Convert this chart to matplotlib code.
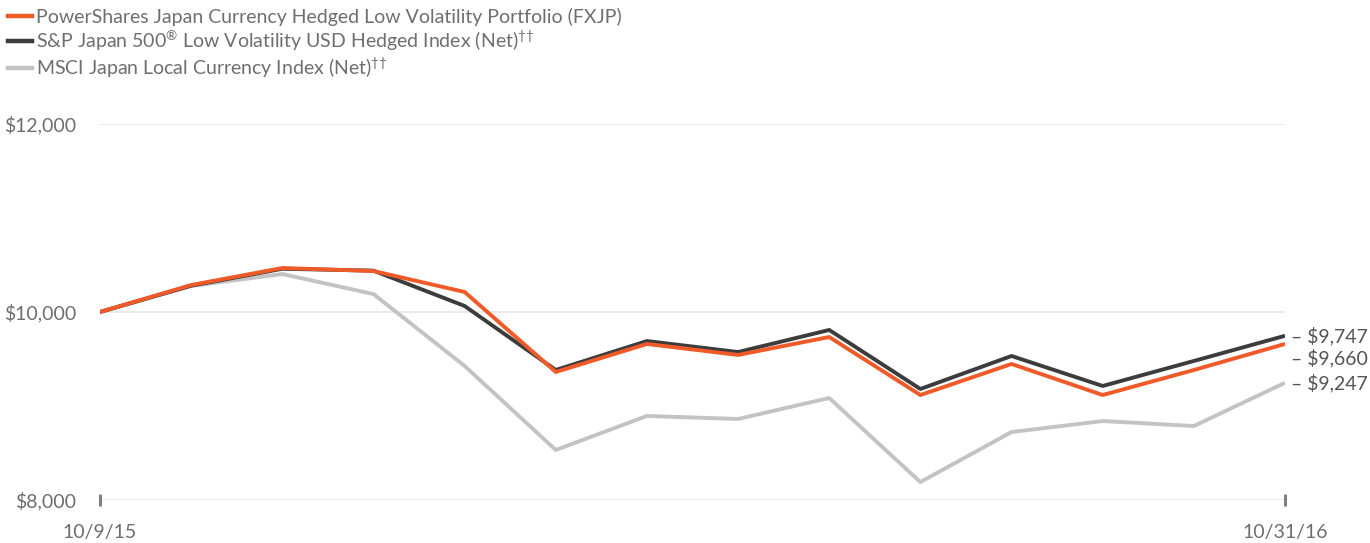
import matplotlib

matplotlib.use("Agg")
import matplotlib.pyplot as plt
from matplotlib.lines import Line2D

# monthly growth of $10,000, 10/9/15 -> 10/31/16 (14 points)
FXJP = [10000, 10287, 10468, 10436, 10213, 9362, 9660, 9543, 9734, 9117, 9447, 9117, 9383, 9660]
SP500 = [10000, 10280, 10460, 10440, 10064, 9383, 9691, 9574, 9809, 9181, 9532, 9213, 9479, 9747]
MSCI = [10000, 10277, 10404, 10191, 9426, 8532, 8894, 8862, 9085, 8191, 8723, 8840, 8787, 9247]
NAMES = ["PowerShares Japan Currency Hedged Low Volatility Portfolio (FXJP)",
         "S&P Japan 500$^{\\circledR}$ Low Volatility USD Hedged Index (Net)$^{\u2020\u2020}$",
         "MSCI Japan Local Currency Index (Net)$^{\u2020\u2020}$"]
END_LABELS = ["$9,747", "$9,660", "$9,247"]
X_LABELS = ["10/9/15", "10/31/16"]
Y_TICKS = [8000, 10000, 12000]

COLORS = {"fxjp": "#f05a28", "sp": "#3c3c3c", "msci": "#c3c3c3"}
TXT = "#6e6e6e"

plt.rcParams.update({"font.family": "Lato", "font.size": 14,
                     "mathtext.fontset": "custom", "mathtext.rm": "Lato",
                     "mathtext.it": "Lato", "mathtext.bf": "Lato"})

fig = plt.figure(figsize=(13.7, 5.43), dpi=100)
ax = fig.add_axes([100 / 1370, 43 / 543, 1185 / 1370, 376 / 543])
x = list(range(len(FXJP)))

for yt in Y_TICKS:
    ax.axhline(yt, color="#e8e8e8", lw=1.3, zorder=0)

ax.plot(x, MSCI, color=COLORS["msci"], lw=2.8, zorder=2, solid_capstyle="butt")
ax.plot(x, SP500, color=COLORS["sp"], lw=2.8, zorder=3, solid_capstyle="butt")
ax.plot(x, FXJP, color=COLORS["fxjp"], lw=2.8, zorder=4, solid_capstyle="butt")

ax.set_xlim(0, len(x) - 1)
ax.set_ylim(8000, 12000)
for sp in ax.spines.values():
    sp.set_visible(False)

ax.set_yticks(Y_TICKS)
ax.set_yticklabels([f"\\${v:,}" for v in Y_TICKS], color=TXT, fontsize=14)
ax.tick_params(axis="y", length=0, pad=17)
ax.set_xticks([0, len(x) - 1])
ax.set_xticklabels(X_LABELS, color=TXT, fontsize=14)
ax.tick_params(axis="x", direction="inout", length=9, width=2.2, color="#808080", pad=13)

# end-of-period value labels, nudged apart like the original
ends = [(SP500[-1], 0), (FXJP[-1], -14), (MSCI[-1], 0)]
for (v, dy), lab in zip(ends, END_LABELS):
    ax.annotate("\u2013 " + lab.replace("$", "\\$"), xy=(len(x) - 1, v),
                xytext=(4, dy * 0.72), textcoords="offset points",
                ha="left", va="center", color="#555555", fontsize=14,
                annotation_clip=False)

handles = [Line2D([0], [0], color=COLORS[k], lw=3.2) for k in ("fxjp", "sp", "msci")]
fig.legend(handles, NAMES, loc="upper left", bbox_to_anchor=(0.0, 1.0),
           frameon=False, handlelength=1.25, handletextpad=0.2,
           labelspacing=0.15, borderpad=0.2, borderaxespad=0.2,
           labelcolor=TXT, fontsize=14)

fig.savefig("out.png", dpi=100)
